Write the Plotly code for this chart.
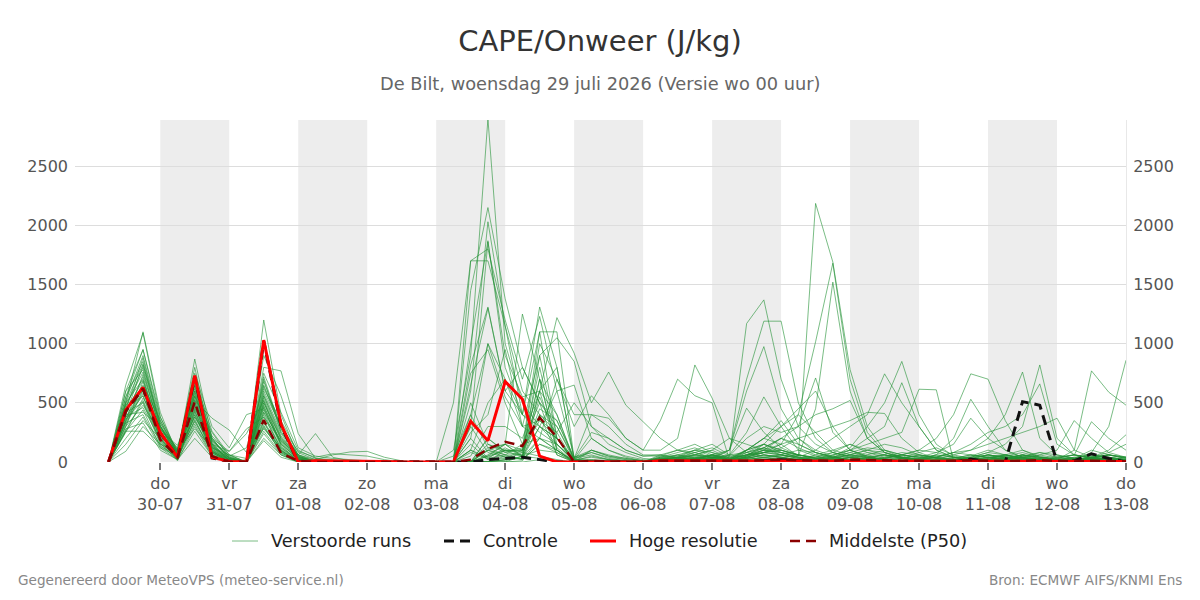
import pandas as pd
import plotly.graph_objects as go

# ---------------- data ----------------
start_time = "2026-07-29 06:00"
n_steps = 60  # 6-hourly steps, 29-07 06:00 .. 13-08 00:00

tick_days = ["2026-07-30", "2026-07-31", "2026-08-01", "2026-08-02", "2026-08-03",
             "2026-08-04", "2026-08-05", "2026-08-06", "2026-08-07", "2026-08-08",
             "2026-08-09", "2026-08-10", "2026-08-11", "2026-08-12", "2026-08-13"]
tick_weekdays = ["do", "vr", "za", "zo", "ma", "di", "wo", "do", "vr", "za", "zo", "ma", "di", "wo", "do"]
tick_dates = ["30-07", "31-07", "01-08", "02-08", "03-08", "04-08", "05-08", "06-08",
              "07-08", "08-08", "09-08", "10-08", "11-08", "12-08", "13-08"]
shade_days = ["2026-07-30", "2026-08-01", "2026-08-03", "2026-08-05",
              "2026-08-07", "2026-08-09", "2026-08-11"]
y_ticks = [0, 500, 1000, 1500, 2000, 2500]

hoge_resolutie = [0, 440, 630, 250, 40, 730, 40, 5, 0, 1030, 320, 0, 10, 10, 10, 10, 5, 0, 0,
                  0, 0, 345, 180, 680, 530, 50, 0, 0, 0, 0, 0, 0,
                  10, 10, 10, 5, 5, 10, 10, 10, 5, 5, 5, 10, 10, 5, 5, 5, 5, 10, 10, 5, 5, 5, 5, 5, 5, 5, 5, 5]
controle = [0, 435, 625, 245, 40, 720, 35, 5, 0, 1020, 310, 0, 5, 5, 5, 5, 0, 0, 0,
            0, 0, 0, 20, 30, 40, 20, 0, 0, 0, 0, 0, 0,
            0, 0, 0, 0, 0, 0, 10, 20, 10, 0, 0, 0, 0, 0, 0, 0, 0, 0, 25, 0, 0, 510, 480, 0, 10, 70, 30, 0]
p50 = [0, 430, 620, 190, 40, 510, 50, 0, 0, 355, 75, 10, 0, 0, 0, 0, 0, 0, 0,
       0, 0, 20, 110, 170, 135, 375, 210, 0, 10, 5, 0, 0,
       10, 10, 10, 5, 5, 10, 15, 20, 15, 10, 10, 20, 15, 10, 10, 10, 5, 10, 15, 10, 5, 10, 15, 10, 5, 10, 10, 5]

m01 = [0, 500, 1100, 420, 60, 870, 200, 30, 0, 600, 300, 40, 10, 5, 0, 0, 0, 0, 0,
       0, 0, 1700, 1700, 1150, 600, 400, 300, 30, 80, 40, 20, 10,
       10, 0, 30, 50, 20, 60, 80, 100, 50, 2185, 1690, 780, 300, 100, 40, 20, 10, 0, 30, 60, 40, 20, 10, 0, 0, 20, 30, 10]
m02 = [0, 650, 1090, 380, 90, 800, 150, 10, 0, 1200, 400, 50, 0, 0, 0, 0, 0, 0, 0,
       0, 100, 900, 2900, 1000, 500, 300, 150, 20, 40, 20, 10, 0,
       0, 20, 40, 60, 10, 80, 120, 60, 30, 40, 80, 50, 20, 10, 30, 60, 40, 20, 10, 30, 50, 80, 40, 20, 100, 770, 590, 480]
m03 = [0, 260, 260, 120, 20, 400, 80, 0, 20, 350, 100, 0, 0, 0, 0, 0, 0, 0, 0,
       0, 0, 1450, 2150, 1380, 800, 500, 300, 10, 50, 20, 0, 0,
       20, 40, 80, 30, 0, 100, 200, 150, 400, 1016, 1680, 700, 250, 80, 30, 10, 0, 20, 50, 100, 60, 30, 10, 0, 10, 40, 60, 30]
m04 = [0, 550, 950, 350, 80, 700, 260, 60, 0, 800, 770, 240, 30, 10, 0, 0, 0, 0, 0,
       0, 500, 1700, 1800, 1200, 700, 1230, 600, 40, 100, 50, 30, 10,
       0, 10, 30, 60, 20, 40, 100, 80, 60, 30, 50, 120, 300, 500, 850, 400, 150, 50, 30, 20, 40, 10, 0, 20, 30, 100, 60, 40]
m05 = [0, 450, 880, 300, 50, 650, 120, 20, 0, 500, 200, 20, 10, 0, 0, 0, 0, 0, 0,
       0, 0, 600, 2030, 1150, 400, 1310, 800, 20, 100, 50, 20, 0,
       30, 60, 40, 20, 0, 50, 80, 100, 60, 40, 30, 20, 10, 40, 80, 60, 30, 10, 20, 40, 60, 30, 10, 0, 20, 80, 300, 860]
m06 = [0, 400, 820, 330, 100, 750, 300, 120, 400, 450, 150, 30, 5, 0, 0, 0, 0, 0, 0,
       0, 0, 300, 1860, 900, 550, 600, 1220, 920, 500, 760, 480, 340,
       200, 100, 60, 40, 40, 1170, 1370, 700, 300, 150, 80, 40, 20, 10, 30, 50, 30, 10, 0, 20, 40, 60, 30, 10, 0, 30, 60, 40]
m07 = [0, 600, 780, 260, 40, 560, 100, 0, 0, 700, 250, 60, 240, 40, 10, 0, 0, 0, 0,
       0, 0, 820, 1310, 600, 400, 1100, 1100, 30, 60, 20, 10, 0,
       10, 30, 80, 120, 50, 200, 300, 250, 300, 710, 250, 100, 50, 20, 10, 0, 20, 40, 30, 20, 60, 100, 50, 20, 10, 30, 20, 10]
m08 = [0, 350, 740, 280, 120, 520, 370, 270, 80, 280, 120, 20, 0, 0, 0, 0, 0, 0, 0,
       0, 0, 200, 1000, 700, 300, 900, 1050, 850, 300, 150, 80, 30,
       20, 40, 60, 100, 30, 60, 80, 60, 40, 30, 60, 100, 150, 200, 250, 615, 610, 10, 30, 60, 40, 20, 10, 40, 60, 30, 20, 10]
m09 = [0, 500, 700, 240, 70, 480, 90, 10, 0, 620, 350, 80, 20, 60, 85, 90, 40, 10, 0,
       0, 0, 750, 950, 500, 150, 200, 700, 300, 560, 400, 200, 100,
       350, 700, 560, 500, 20, 100, 150, 80, 40, 20, 60, 100, 40, 20, 10, 30, 50, 20, 10, 0, 20, 50, 30, 10, 20, 40, 20, 10]
m10 = [0, 300, 680, 200, 30, 600, 80, 0, 0, 520, 140, 0, 0, 0, 0, 0, 0, 0, 0,
       0, 0, 100, 500, 700, 400, 300, 200, 10, 10, 0, 0, 0,
       0, 10, 20, 40, 10, 30, 60, 40, 20, 60, 100, 150, 80, 40, 60, 100, 200, 400, 745, 700, 350, 100, 40, 20, 10, 30, 20, 10]
m11 = [0, 420, 650, 350, 60, 450, 200, 90, 280, 380, 180, 60, 10, 0, 0, 0, 0, 0, 0,
       0, 0, 50, 300, 300, 200, 600, 400, 20, 10, 0, 0, 0,
       30, 50, 100, 80, 20, 60, 120, 200, 150, 80, 40, 20, 10, 30, 60, 40, 20, 10, 40, 80, 150, 300, 820, 200, 60, 30, 20, 10]
m12 = [0, 380, 620, 180, 20, 430, 60, 0, 0, 750, 420, 100, 30, 20, 0, 0, 0, 0, 0,
       0, 0, 0, 60, 150, 100, 1000, 700, 400, 400, 370, 200, 100,
       100, 200, 820, 540, 200, 80, 40, 60, 100, 80, 40, 20, 60, 100, 60, 30, 10, 0, 20, 60, 40, 20, 60, 100, 350, 200, 80, 40]
m13 = [0, 480, 600, 220, 90, 380, 120, 40, 0, 300, 80, 0, 0, 0, 0, 0, 0, 0, 0,
       0, 0, 500, 150, 100, 100, 800, 150, 10, 10, 0, 0, 0,
       60, 30, 20, 10, 0, 20, 40, 60, 30, 20, 40, 80, 120, 100, 60, 40, 80, 150, 370, 200, 100, 40, 20, 10, 0, 10, 30, 20]
m14 = [0, 330, 580, 260, 140, 520, 140, 20, 0, 560, 240, 30, 0, 0, 0, 0, 0, 0, 0,
       0, 0, 0, 200, 80, 120, 1100, 200, 20, 10, 0, 0, 0,
       20, 40, 30, 20, 60, 250, 550, 300, 100, 50, 20, 10, 30, 60, 40, 20, 10, 0, 10, 20, 40, 30, 20, 10, 30, 60, 40, 20]
m15 = [0, 450, 560, 160, 10, 300, 50, 0, 0, 420, 110, 10, 0, 0, 0, 0, 0, 0, 0,
       0, 0, 300, 80, 40, 30, 900, 200, 0, 0, 0, 0, 0,
       0, 0, 10, 20, 0, 10, 30, 20, 10, 0, 10, 20, 30, 20, 10, 0, 10, 20, 40, 60, 30, 10, 0, 10, 20, 30, 20, 10]
m16 = [0, 250, 540, 300, 70, 600, 180, 50, 120, 650, 300, 90, 40, 70, 60, 50, 20, 0, 0,
       0, 0, 0, 100, 60, 60, 600, 100, 10, 0, 0, 0, 0,
       40, 80, 120, 60, 20, 100, 200, 350, 150, 80, 40, 60, 100, 80, 40, 20, 60, 200, 530, 300, 100, 40, 20, 10, 20, 40, 60, 30]
m17 = [0, 360, 520, 200, 40, 350, 70, 0, 0, 200, 60, 0, 0, 0, 0, 0, 0, 0, 0,
       0, 50, 400, 120, 150, 40, 200, 100, 0, 0, 0, 0, 0,
       10, 20, 30, 40, 10, 20, 40, 30, 20, 10, 20, 40, 20, 10, 0, 10, 20, 10, 0, 10, 20, 40, 20, 10, 0, 40, 100, 230]
m18 = [0, 420, 500, 150, 100, 280, 120, 60, 30, 480, 150, 20, 0, 0, 0, 0, 0, 0, 0,
       0, 0, 100, 40, 100, 80, 700, 120, 0, 10, 0, 0, 0,
       50, 30, 20, 60, 30, 80, 150, 100, 60, 40, 80, 150, 100, 60, 30, 20, 40, 80, 60, 40, 20, 40, 80, 60, 30, 20, 10, 0]
m19 = [0, 300, 480, 250, 50, 480, 90, 10, 0, 340, 90, 10, 0, 0, 0, 0, 0, 0, 0,
       0, 0, 0, 50, 150, 50, 300, 600, 650, 200, 100, 40, 10,
       30, 20, 10, 30, 100, 455, 250, 120, 60, 30, 20, 40, 60, 30, 20, 10, 0, 10, 30, 20, 10, 40, 60, 30, 20, 10, 20, 10]
m20 = [0, 380, 460, 190, 20, 200, 40, 0, 0, 260, 70, 0, 0, 0, 0, 0, 0, 0, 0,
       0, 0, 200, 30, 60, 20, 150, 80, 0, 0, 0, 0, 0,
       10, 40, 100, 150, 60, 80, 120, 200, 300, 400, 450, 520, 200, 80, 40, 20, 10, 0, 10, 30, 50, 20, 10, 30, 60, 40, 20, 10]
m21 = [0, 260, 440, 130, 60, 380, 150, 90, 240, 520, 200, 50, 0, 0, 0, 0, 0, 0, 0,
       0, 0, 0, 120, 60, 150, 500, 60, 0, 0, 0, 0, 0,
       0, 20, 60, 40, 20, 50, 100, 150, 200, 250, 300, 350, 420, 410, 200, 80, 30, 10, 20, 40, 20, 10, 0, 20, 40, 60, 30, 10]
m22 = [0, 400, 420, 300, 80, 500, 110, 20, 0, 900, 560, 120, 50, 30, 20, 10, 0, 0, 0,
       0, 0, 0, 0, 100, 40, 550, 200, 30, 400, 300, 150, 60,
       60, 40, 20, 60, 100, 700, 1190, 1190, 500, 200, 80, 40, 20, 10, 30, 60, 40, 20, 10, 30, 60, 40, 20, 10, 20, 40, 30, 20]
m23 = [0, 330, 400, 140, 30, 320, 60, 0, 0, 400, 100, 10, 0, 0, 0, 0, 0, 0, 0,
       0, 0, 150, 20, 30, 100, 400, 250, 0, 0, 0, 0, 0,
       0, 10, 20, 40, 20, 30, 60, 40, 20, 10, 30, 60, 40, 20, 10, 30, 60, 40, 20, 10, 30, 60, 40, 20, 10, 30, 40, 20]
m24 = [0, 200, 380, 120, 50, 420, 130, 30, 0, 310, 80, 0, 0, 0, 0, 0, 0, 0, 0,
       0, 0, 0, 0, 50, 20, 150, 100, 0, 0, 0, 0, 0,
       20, 10, 0, 10, 30, 100, 200, 300, 400, 250, 100, 60, 30, 20, 10, 0, 10, 20, 30, 20, 10, 0, 10, 20, 30, 20, 10, 0]
m25 = [0, 150, 350, 200, 110, 560, 250, 40, 0, 460, 130, 20, 0, 0, 0, 0, 0, 0, 0,
       0, 0, 80, 30, 120, 50, 450, 350, 20, 200, 100, 50, 20,
       10, 30, 50, 30, 10, 50, 150, 300, 450, 600, 300, 100, 50, 20, 40, 80, 120, 60, 30, 10, 20, 50, 80, 40, 20, 10, 20, 10]
m26 = [0, 280, 330, 100, 20, 260, 50, 0, 0, 180, 40, 0, 0, 0, 0, 0, 0, 0, 0,
       0, 0, 0, 0, 20, 80, 50, 20, 0, 0, 0, 0, 0,
       0, 0, 0, 10, 0, 10, 20, 10, 0, 0, 10, 20, 10, 0, 0, 10, 20, 10, 0, 0, 10, 20, 10, 0, 0, 10, 20, 10]
m27 = [0, 90, 300, 150, 60, 340, 90, 20, 0, 240, 60, 0, 0, 0, 0, 0, 0, 0, 0,
       0, 0, 0, 100, 40, 30, 300, 200, 0, 0, 0, 0, 0,
       20, 40, 60, 100, 200, 150, 100, 60, 40, 20, 10, 20, 40, 60, 40, 20, 10, 30, 60, 40, 20, 10, 30, 50, 30, 10, 20, 40]
m28 = [0, 600, 950, 380, 70, 680, 200, 30, 0, 580, 260, 40, 10, 0, 0, 0, 0, 0, 0,
       0, 0, 1000, 1870, 800, 400, 250, 150, 20, 20, 0, 0, 0,
       40, 20, 10, 30, 10, 40, 80, 150, 50, 450, 1520, 600, 200, 80, 40, 20, 10, 30, 60, 40, 20, 10, 0, 10, 30, 60, 40, 20]
m29 = [0, 550, 850, 310, 40, 620, 160, 20, 0, 680, 300, 60, 20, 10, 0, 0, 0, 0, 0,
       0, 0, 650, 1300, 600, 800, 500, 350, 40, 80, 30, 10, 0,
       20, 60, 100, 50, 20, 60, 100, 80, 40, 100, 200, 300, 400, 745, 500, 300, 100, 40, 20, 10, 30, 60, 30, 10, 20, 40, 20, 10]
m30 = [0, 480, 760, 280, 90, 550, 220, 60, 0, 420, 180, 20, 0, 0, 0, 0, 0, 0, 0,
       0, 0, 0, 100, 150, 1250, 700, 400, 10, 0, 0, 0, 0,
       10, 30, 60, 40, 20, 40, 80, 60, 30, 20, 40, 100, 200, 300, 670, 300, 100, 40, 20, 40, 60, 30, 10, 20, 40, 20, 10, 0]
m31 = [0, 400, 720, 230, 50, 580, 130, 10, 0, 380, 120, 10, 0, 0, 0, 0, 0, 0, 0,
       0, 0, 250, 400, 950, 300, 350, 200, 0, 10, 0, 0, 0,
       30, 20, 10, 30, 60, 40, 20, 40, 60, 30, 10, 20, 40, 60, 30, 10, 20, 60, 100, 200, 400, 760, 200, 60, 30, 20, 10, 0]
m32 = [0, 520, 900, 330, 60, 720, 190, 30, 0, 640, 280, 50, 0, 0, 0, 0, 0, 0, 0,
       0, 0, 0, 150, 80, 60, 600, 800, 30, 250, 200, 100, 50,
       50, 100, 80, 40, 100, 600, 975, 450, 200, 80, 40, 20, 10, 30, 60, 40, 20, 10, 30, 60, 40, 20, 10, 30, 60, 40, 20, 10]
m33 = [0, 350, 640, 250, 80, 460, 100, 20, 0, 560, 220, 40, 0, 0, 0, 0, 0, 0, 0,
       0, 0, 0, 0, 0, 10, 200, 150, 0, 100, 60, 30, 10,
       10, 20, 40, 20, 10, 30, 60, 40, 20, 10, 30, 60, 40, 20, 10, 30, 60, 40, 20, 10, 30, 60, 40, 20, 10, 30, 60, 40]
m34 = [0, 380, 560, 210, 30, 400, 110, 10, 0, 440, 160, 20, 0, 0, 0, 0, 0, 0, 0,
       0, 0, 100, 20, 10, 50, 30, 10, 0, 0, 0, 0, 0,
       0, 0, 10, 20, 10, 0, 10, 20, 10, 0, 10, 30, 20, 10, 0, 10, 20, 10, 0, 10, 20, 10, 0, 10, 20, 10, 0, 0]
m35 = [0, 430, 690, 260, 70, 530, 180, 50, 0, 500, 190, 30, 10, 0, 0, 0, 0, 0, 0,
       0, 0, 0, 50, 100, 90, 700, 100, 0, 20, 10, 0, 0,
       20, 40, 20, 60, 40, 100, 150, 100, 60, 30, 20, 40, 80, 60, 30, 20, 40, 80, 150, 250, 300, 400, 660, 150, 60, 30, 20, 10]
m36 = [0, 310, 600, 240, 40, 440, 90, 0, 0, 330, 100, 0, 0, 0, 0, 0, 0, 0, 0,
       0, 0, 0, 0, 20, 30, 400, 60, 0, 10, 0, 0, 0,
       40, 60, 30, 20, 10, 40, 80, 120, 200, 100, 50, 20, 10, 30, 60, 100, 80, 40, 20, 10, 30, 60, 40, 20, 10, 40, 80, 150]
m37 = [0, 460, 800, 300, 110, 660, 170, 40, 0, 720, 280, 60, 0, 0, 0, 0, 0, 0, 0,
       0, 0, 400, 1000, 550, 300, 200, 100, 0, 0, 0, 0, 0,
       20, 10, 30, 60, 30, 60, 120, 80, 40, 20, 40, 80, 40, 20, 10, 20, 40, 80, 100, 150, 200, 250, 300, 370, 100, 40, 20, 10]
m38 = [0, 340, 610, 190, 60, 500, 150, 30, 0, 470, 170, 30, 0, 0, 0, 0, 0, 0, 0,
       0, 0, 0, 200, 90, 100, 350, 250, 500, 300, 200, 100, 50,
       60, 100, 150, 80, 40, 60, 100, 200, 120, 60, 30, 60, 100, 150, 120, 60, 30, 20, 40, 80, 60, 30, 20, 40, 60, 340, 200, 100]
m39 = [0, 500, 830, 290, 50, 640, 140, 20, 0, 540, 210, 40, 0, 0, 0, 0, 0, 0, 0,
       0, 0, 0, 0, 0, 50, 100, 80, 0, 0, 0, 0, 0,
       10, 0, 10, 20, 10, 30, 60, 40, 20, 10, 0, 10, 20, 40, 30, 10, 0, 10, 20, 40, 20, 10, 0, 10, 20, 40, 60, 30]
m40 = [0, 270, 510, 170, 30, 360, 80, 0, 0, 290, 90, 0, 0, 0, 0, 0, 0, 0, 0,
       0, 0, 0, 0, 0, 0, 20, 10, 0, 0, 0, 0, 0,
       0, 10, 20, 10, 0, 20, 40, 20, 10, 0, 20, 40, 20, 10, 0, 20, 40, 20, 10, 0, 20, 40, 20, 10, 0, 20, 40, 20]

members = [m01, m02, m03, m04, m05, m06, m07, m08, m09, m10,
           m11, m12, m13, m14, m15, m16, m17, m18, m19, m20,
           m21, m22, m23, m24, m25, m26, m27, m28, m29, m30,
           m31, m32, m33, m34, m35, m36, m37, m38, m39, m40]

legend_labels = ["Verstoorde runs", "Controle", "Hoge resolutie", "Middelste (P50)"]

# ---------------- styling ----------------
FONT = "DejaVu Sans"
Y_MAX = 2890
W, H = 1200, 600
ML, MR, MT, MB = 75, 74, 120, 138
PW = W - ML - MR
PH = H - MT - MB

STYLE_MEMBER = dict(color="rgba(34,145,52,0.6)", width=1)
STYLE_CTRL = dict(color="#111111", width=3, dash="10px,6px")
STYLE_HR = dict(color="#ff0000", width=3)
STYLE_P50 = dict(color="#8b0000", width=2.5, dash="10px,6px")


def px_x(px):
    return (px - ML) / PW


def px_y(py):
    return (H - MB - py) / PH


times = pd.date_range(start_time, periods=n_steps, freq="6h")

fig = go.Figure()
for m in members:
    fig.add_trace(go.Scatter(x=times, y=m, mode="lines", name=legend_labels[0],
                             showlegend=False, hoverinfo="skip", line=STYLE_MEMBER))
fig.add_trace(go.Scatter(x=times, y=controle, mode="lines", name=legend_labels[1],
                         showlegend=False, line=STYLE_CTRL))
fig.add_trace(go.Scatter(x=times, y=hoge_resolutie, mode="lines", name=legend_labels[2],
                         showlegend=False, line=STYLE_HR))
fig.add_trace(go.Scatter(x=times, y=p50, mode="lines", name=legend_labels[3],
                         showlegend=False, line=STYLE_P50))
# carrier for the mirrored right-hand axis
fig.add_trace(go.Scatter(x=[times[0]], y=[None], yaxis="y2", mode="lines",
                         showlegend=False, hoverinfo="skip"))

shapes = []
for d in shade_days:
    d0 = pd.Timestamp(d)
    shapes.append(dict(type="rect", xref="x", yref="paper", x0=d0, x1=d0 + pd.Timedelta(days=1),
                       y0=0, y1=1, fillcolor="#ededed", line=dict(width=0), layer="below"))

# hand-built legend (sample line + text)
legend_y = px_y(541)
legend_samples = [(232, 258, 271), (444, 470, 483), (590, 616, 629), (790, 816, 829)]
legend_styles = [STYLE_MEMBER, STYLE_CTRL, STYLE_HR, STYLE_P50]
annotations = []
for (s0, s1, tx), lab, st in zip(legend_samples, legend_labels, legend_styles):
    shapes.append(dict(type="line", xref="paper", yref="paper", x0=px_x(s0), x1=px_x(s1),
                       y0=legend_y, y1=legend_y, line=st))
    annotations.append(dict(text=lab, xref="paper", yref="paper", x=px_x(tx - 2), y=legend_y,
                            xanchor="left", yanchor="middle", showarrow=False,
                            font=dict(family=FONT, size=17.7, color="#222222")))

annotations += [
    dict(text="De Bilt, woensdag 29 juli 2026 (Versie wo 00 uur)", xref="paper", yref="paper",
         x=0.5, y=px_y(83), xanchor="center", yanchor="middle", showarrow=False,
         font=dict(family=FONT, size=17.8, color="#666666")),
    dict(text="Gegenereerd door MeteoVPS (meteo-service.nl)", xref="paper", yref="paper",
         x=px_x(16), y=px_y(580), xanchor="left", yanchor="middle",
         showarrow=False, font=dict(family=FONT, size=13.6, color="#888888")),
    dict(text="Bron: ECMWF AIFS/KNMI Ens", xref="paper", yref="paper",
         x=px_x(1184), y=px_y(580), xanchor="right", yanchor="middle",
         showarrow=False, font=dict(family=FONT, size=13.6, color="#888888")),
]

ticktext = [f"{w}<br>{d}" for w, d in zip(tick_weekdays, tick_dates)]

fig.update_layout(
    width=W, height=H,
    margin=dict(l=ML, r=MR, t=MT, b=MB),
    paper_bgcolor="white", plot_bgcolor="white",
    font=dict(family=FONT, color="#555555", size=16),
    title=dict(text="CAPE/Onweer (J/kg)", x=0.5, xanchor="center", y=1 - 41 / H,
               yanchor="middle", yref="container",
               font=dict(family=FONT, size=29, color="#333333")),
    shapes=shapes,
    annotations=annotations,
    showlegend=False,
    xaxis=dict(type="date", range=["2026-07-28 18:20", "2026-08-13 00:00"],
               tickvals=tick_days, ticktext=ticktext, ticks="outside", ticklen=7,
               tickcolor="#777777", tickwidth=1.5, showgrid=False, zeroline=False,
               showline=False, tickfont=dict(size=16, color="#555555")),
    yaxis=dict(range=[0, Y_MAX], tickvals=y_ticks,
               showgrid=True, gridcolor="#dddddd", gridwidth=1, zeroline=False,
               showline=False, ticks="", ticklabelstandoff=6,
               tickfont=dict(size=16, color="#555555")),
    yaxis2=dict(range=[0, Y_MAX], tickvals=y_ticks,
                overlaying="y", side="right", showgrid=False, zeroline=False,
                showline=True, linecolor="#e8e8e8", linewidth=1, ticks="", ticklabelstandoff=3,
                tickfont=dict(size=16, color="#555555")),
)

fig.write_html("out.html")
